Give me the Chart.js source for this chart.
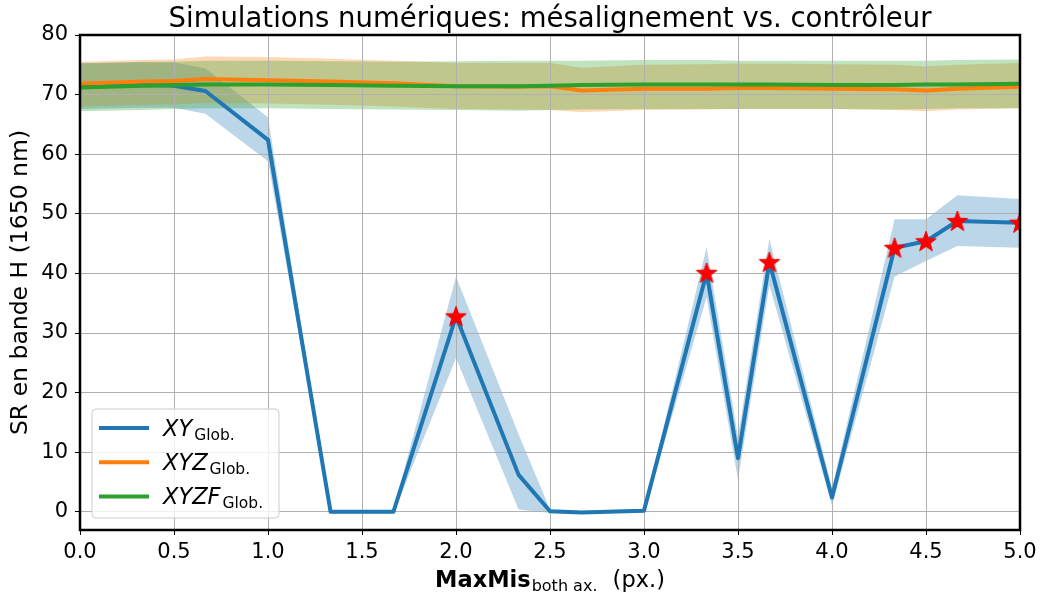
<!DOCTYPE html>
<html>
<head>
<meta charset="utf-8">
<script src="https://cdn.jsdelivr.net/npm/chart.js@4.4.1/dist/chart.umd.min.js"></script>
<style>
  html, body { margin: 0; padding: 0; background: #ffffff; }
  #wrap { position: relative; width: 1042px; height: 597px; }
</style>
</head>
<body>
<div id="wrap"><canvas id="c" width="1042" height="597"></canvas></div>
<script>
// ---------------- DATA ----------------
const chartTitle = 'Simulations numériques: mésalignement vs. contrôleur';
const yAxisTitle = 'SR en bande H (1650 nm)';
const xTitleMain = 'MaxMis';
const xTitleSub = 'both ax.';
const xTitleUnit = '(px.)';
const seriesNames = ['XY', 'XYZ', 'XYZF'];
const seriesSub = 'Glob.';

const xValues = [0.0, 0.333, 0.5, 0.667, 1.0, 1.333, 1.667, 2.0, 2.333, 2.5, 2.667, 3.0, 3.333, 3.5, 3.667, 4.0, 4.333, 4.5, 4.667, 5.0];

const xyMean  = [71.5, 71.6, 71.5, 70.6, 62.4, 0.0, 0.0, 32.8, 6.2, 0.1, -0.1, 0.2, 40.1, 9.0, 41.9, 2.4, 44.3, 45.4, 48.8, 48.5];
const xyUpper = [75.3, 75.4, 75.4, 74.4, 66.2, 0.3, 0.3, 39.5, 13.0, 0.4, 0.2, 0.5, 44.4, 12.6, 45.8, 4.0, 49.1, 49.1, 53.1, 52.5];
const xyLower = [67.6, 67.8, 67.8, 66.8, 58.8, -0.3, -0.3, 25.8, 0.4, -0.2, -0.3, -0.1, 36.0, 5.4, 38.0, 1.0, 39.5, 42.1, 44.6, 44.3];

const xyzMean  = [71.8, 72.2, 72.3, 72.6, 72.4, 72.2, 71.9, 71.4, 71.3, 71.4, 70.7, 71.0, 71.0, 71.1, 71.1, 71.0, 70.9, 70.7, 71.0, 71.3];
const xyzUpper = [75.5, 75.8, 75.9, 76.4, 76.3, 76.0, 75.7, 75.3, 75.3, 75.3, 74.5, 75.0, 75.1, 75.2, 75.2, 75.1, 75.0, 74.7, 75.0, 75.3];
const xyzLower = [68.0, 68.3, 68.4, 68.6, 68.5, 68.3, 68.0, 67.6, 67.5, 67.4, 67.1, 67.4, 67.5, 67.6, 67.6, 67.6, 67.4, 67.2, 67.5, 67.7];

const xyzfMean  = [71.2, 71.5, 71.6, 71.7, 71.7, 71.6, 71.5, 71.4, 71.4, 71.5, 71.6, 71.7, 71.7, 71.7, 71.7, 71.6, 71.6, 71.7, 71.7, 71.8];
const xyzfUpper = [75.2, 75.5, 75.5, 75.7, 75.7, 75.6, 75.5, 75.6, 75.7, 75.7, 75.7, 75.8, 75.8, 75.7, 75.7, 75.7, 75.7, 75.7, 75.8, 75.9];
const xyzfLower = [67.2, 67.4, 67.6, 67.7, 67.7, 67.6, 67.5, 67.4, 67.3, 67.4, 67.5, 67.6, 67.6, 67.6, 67.6, 67.6, 67.5, 67.6, 67.7, 67.7];

// x positions marked with a red star on the XY curve
const markedX = [2.0, 3.333, 3.667, 4.333, 4.5, 4.667, 5.0];

const xTickValues = [0.0, 0.5, 1.0, 1.5, 2.0, 2.5, 3.0, 3.5, 4.0, 4.5, 5.0];
const yTickValues = [0, 10, 20, 30, 40, 50, 60, 70, 80];
const yMin = -3.05, yMax = 80;
const xMin = 0, xMax = 5;

// ---------------- STYLE ----------------
const COLORS = ['#1f77b4', '#ff7f0e', '#2ca02c'];
const BANDS = ['rgba(31,119,180,0.3)', 'rgba(255,127,14,0.3)', 'rgba(44,160,44,0.3)'];
const FONT = '"DejaVu Sans", "Liberation Sans", sans-serif';

function pts(ys) { return xValues.map((x, i) => ({ x: x, y: ys[i] })); }
const starPts = markedX.map(mx => ({ x: mx, y: xyMean[xValues.indexOf(mx)] }));

// filled star marker
function makeStar() {
  const s = 28, c = document.createElement('canvas');
  c.width = s; c.height = s;
  const g = c.getContext('2d');
  const R = 10.8, r = 4.4;
  g.beginPath();
  for (let k = 0; k < 10; k++) {
    const rad = (k % 2 === 0) ? R : r;
    const a = -Math.PI / 2 + k * Math.PI / 5;
    const px = s / 2 + rad * Math.cos(a), py = s / 2 + rad * Math.sin(a) + 0.8;
    if (k === 0) g.moveTo(px, py); else g.lineTo(px, py);
  }
  g.closePath();
  g.fillStyle = '#ff0000';
  g.fill();
  g.lineWidth = 1;
  g.strokeStyle = '#ee0000';
  g.lineJoin = 'miter';
  g.stroke();
  return c;
}
const starImg = makeStar();

const means = [xyMean, xyzMean, xyzfMean];
const uppers = [xyUpper, xyzUpper, xyzfUpper];
const lowers = [xyLower, xyzLower, xyzfLower];

const datasets = [];
// bands: pairs (upper filled to lower)
for (let s = 0; s < 3; s++) {
  const lowerIndex = datasets.length + 1;
  datasets.push({
    data: pts(uppers[s]), borderWidth: 0, borderColor: 'rgba(0,0,0,0)', pointRadius: 0,
    backgroundColor: BANDS[s], fill: { target: lowerIndex }, tension: 0,
    order: 9 - s, redrawGrid: s === 2
  });
  datasets.push({
    data: pts(lowers[s]), borderWidth: 0, borderColor: 'rgba(0,0,0,0)', pointRadius: 0,
    fill: false, tension: 0, order: 9 - s
  });
}
// mean lines
for (let s = 0; s < 3; s++) {
  datasets.push({
    data: pts(means[s]), borderColor: COLORS[s], borderWidth: 4, pointRadius: 0,
    fill: false, tension: 0, order: 3 - s, borderJoinStyle: 'round', borderCapStyle: 'butt'
  });
}
// stars
datasets.push({
  data: starPts, showLine: false, pointStyle: starImg, pointRadius: 11,
  borderWidth: 0, fill: false, order: 0, clip: 0
});

// ---------------- PLUGINS ----------------
const gridOverBands = {
  id: 'gridOverBands',
  afterDatasetDraw(chart, args) {
    const ds = chart.data.datasets[args.index];
    if (ds && ds.redrawGrid) {
      chart.scales.x.drawGrid(chart.chartArea);
      chart.scales.y.drawGrid(chart.chartArea);
    }
  }
};

const framePlugin = {
  id: 'frame',
  afterDatasetsDraw(chart) {
    const a = chart.chartArea, ctx = chart.ctx;
    ctx.save();
    ctx.strokeStyle = '#000000';
    ctx.lineWidth = 2.5;
    ctx.strokeRect(a.left, a.top, a.right - a.left, a.bottom - a.top);
    ctx.restore();
  }
};

const textPlugin = {
  id: 'texts',
  afterDraw(chart) {
    const ctx = chart.ctx, a = chart.chartArea;
    ctx.save();
    // title
    ctx.fillStyle = '#000';
    ctx.textBaseline = 'alphabetic';
    ctx.textAlign = 'center';
    ctx.font = '27.5px ' + FONT;
    ctx.fillText(chartTitle, (a.left + a.right) / 2, 27);

    // x axis title with subscript
    ctx.textAlign = 'left';
    const fMain = 'bold 22.5px ' + FONT, fSub = '16px ' + FONT, fUnit = '22.5px ' + FONT;
    ctx.font = fMain; const w1 = ctx.measureText(xTitleMain).width;
    ctx.font = fSub; const w2 = ctx.measureText(xTitleSub).width;
    ctx.font = fUnit; const wsp = ctx.measureText(' ').width + 8; const w3 = ctx.measureText(xTitleUnit).width;
    const total = w1 + 1 + w2 + wsp + w3;
    let x0 = (a.left + a.right) / 2 - total / 2;
    const base = 587;
    ctx.font = fMain; ctx.fillText(xTitleMain, x0, base); x0 += w1 + 1;
    ctx.font = fSub; ctx.fillText(xTitleSub, x0, base + 3.5); x0 += w2 + wsp;
    ctx.font = fUnit; ctx.fillText(xTitleUnit, x0, base);

    // legend
    const bx = 92, by = 409, bw = 187, bh = 109, rr = 4;
    ctx.beginPath();
    ctx.moveTo(bx + rr, by);
    ctx.lineTo(bx + bw - rr, by); ctx.quadraticCurveTo(bx + bw, by, bx + bw, by + rr);
    ctx.lineTo(bx + bw, by + bh - rr); ctx.quadraticCurveTo(bx + bw, by + bh, bx + bw - rr, by + bh);
    ctx.lineTo(bx + rr, by + bh); ctx.quadraticCurveTo(bx, by + bh, bx, by + bh - rr);
    ctx.lineTo(bx, by + rr); ctx.quadraticCurveTo(bx, by, bx + rr, by);
    ctx.closePath();
    ctx.fillStyle = 'rgba(255,255,255,0.8)';
    ctx.fill();
    ctx.strokeStyle = '#cccccc';
    ctx.lineWidth = 1;
    ctx.stroke();
    for (let i = 0; i < seriesNames.length; i++) {
      const ly = 428 + i * 34.2;
      ctx.strokeStyle = COLORS[i];
      ctx.lineWidth = 4;
      ctx.beginPath(); ctx.moveTo(99, ly); ctx.lineTo(149, ly); ctx.stroke();
      ctx.fillStyle = '#000';
      ctx.font = 'italic 22.5px ' + FONT;
      ctx.fillText(seriesNames[i], 163, ly + 7.5);
      const wm = ctx.measureText(seriesNames[i]).width;
      ctx.font = '15.5px ' + FONT;
      ctx.fillText(seriesSub, 163 + wm + 2, ly + 11.5);
    }
    ctx.restore();
  }
};

// ---------------- CHART ----------------
Chart.defaults.font.family = FONT;
Chart.defaults.color = '#000000';

new Chart(document.getElementById('c'), {
  type: 'line',
  data: { datasets: datasets },
  options: {
    responsive: false,
    animation: false,
    events: [],
    layout: { padding: { top: 35, right: 22, left: 0, bottom: 0 } },
    plugins: { legend: { display: false }, tooltip: { enabled: false }, title: { display: false } },
    scales: {
      x: {
        type: 'linear', min: xMin, max: xMax,
        afterBuildTicks: s => { s.ticks = xTickValues.map(v => ({ value: v })); },
        afterFit: s => { s.height = 67; },
        ticks: { callback: v => Number(v).toFixed(1), font: { size: 21 }, color: '#000', padding: 5, maxRotation: 0, autoSkip: false },
        grid: { color: '#b0b0b0', lineWidth: 1, tickColor: '#000', tickLength: 5, tickWidth: 1 },
        border: { display: false }
      },
      y: {
        type: 'linear', min: yMin, max: yMax,
        afterBuildTicks: s => { s.ticks = yTickValues.map(v => ({ value: v })); },
        afterFit: s => { s.width = 80; },
        ticks: { font: { size: 21 }, color: '#000', padding: 7, autoSkip: false },
        grid: { color: '#b0b0b0', lineWidth: 1, tickColor: '#000', tickLength: 5, tickWidth: 1 },
        border: { display: false },
        title: { display: true, text: yAxisTitle, font: { size: 23.5 }, color: '#000', padding: { top: 7, bottom: 0 } }
      }
    }
  },
  plugins: [gridOverBands, framePlugin, textPlugin]
});
</script>
</body>
</html>
